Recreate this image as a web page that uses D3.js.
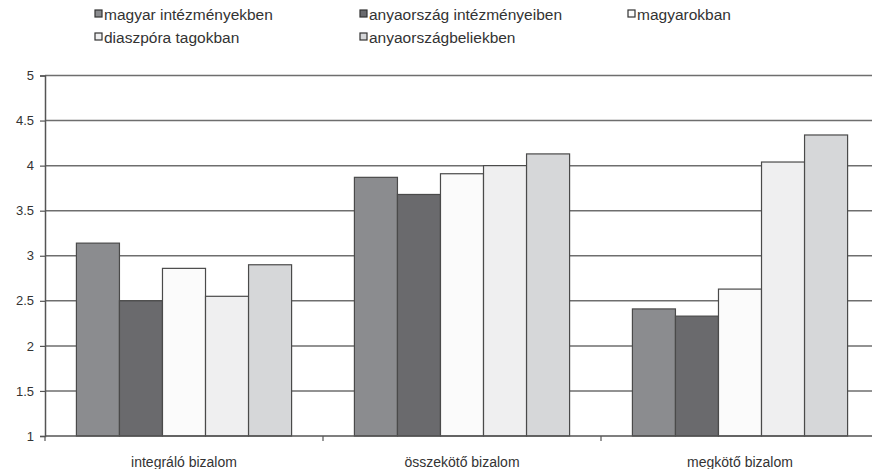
<!DOCTYPE html>
<html>
<head>
<meta charset="utf-8">
<script src="https://cdn.jsdelivr.net/npm/d3@7"></script>
<style>
  body { margin: 0; background: #fff; }
  svg { display: block; font-family: "Liberation Sans", Arial, sans-serif; }
</style>
</head>
<body>
<div id="chart"></div>
<script>
// categories, series and values
const categories = ["integráló bizalom", "összekötő bizalom", "megkötő bizalom"];
const seriesNames = ["magyar intézményekben", "anyaország intézményeiben", "magyarokban",
                     "diaszpóra tagokban", "anyaországbeliekben"];
const seriesColors = ["#8b8c8f", "#6a6a6d", "#fbfbfb", "#efeff0", "#d6d7d9"];
const values = [
  [3.14, 2.50, 2.86, 2.55, 2.90],
  [3.87, 3.68, 3.91, 4.00, 4.13],
  [2.41, 2.33, 2.63, 4.04, 4.34]
];
const yTicks = [1, 1.5, 2, 2.5, 3, 3.5, 4, 4.5, 5];

const width = 872, height = 469;
const plotLeft = 45, plotRight = 879, plotTop = 75.5, plotBottom = 436;

const svg = d3.select("#chart").append("svg")
  .attr("width", width)
  .attr("height", height);

const x = d3.scaleBand().domain(categories).range([plotLeft, plotRight]).paddingInner(0).paddingOuter(0);
const inner = d3.scaleBand().domain(d3.range(seriesNames.length))
  .range([0, x.bandwidth()]).paddingInner(0).paddingOuter(0.73);
const y = d3.scaleLinear().domain([1, 5]).range([plotBottom, plotTop]);

// gridlines
svg.append("g").selectAll("line")
  .data(yTicks.filter(t => t > 1))
  .enter().append("line")
  .attr("x1", plotLeft).attr("x2", plotRight)
  .attr("y1", d => y(d)).attr("y2", d => y(d))
  .style("stroke", "#6e6e6e")
  .style("stroke-width", 1.5);

// y axis
const yAxis = svg.append("g")
  .attr("transform", `translate(${plotLeft},0)`)
  .call(d3.axisLeft(y).tickValues(yTicks).tickSize(5).tickPadding(6).tickFormat(d3.format("")));
yAxis.select(".domain").style("stroke", "#555").style("stroke-width", 1.5);
yAxis.selectAll(".tick line").style("stroke", "#555").style("stroke-width", 1.2);
yAxis.selectAll("text").style("font-size", "13px").style("fill", "#333");

// bars
const groups = svg.append("g").selectAll("g")
  .data(values)
  .enter().append("g")
  .attr("transform", (d, i) => `translate(${x(categories[i])},0)`);

groups.selectAll("rect")
  .data(d => d)
  .enter().append("rect")
  .attr("x", (d, i) => inner(i))
  .attr("width", inner.bandwidth())
  .attr("y", d => y(d))
  .attr("height", d => y(1) - y(d))
  .style("fill", (d, i) => seriesColors[i])
  .style("stroke", "#4a4a4a")
  .style("stroke-width", 1.2);

// x axis
const xAxis = svg.append("g")
  .attr("transform", `translate(0,${plotBottom})`);
xAxis.append("line")
  .attr("x1", plotLeft).attr("x2", plotRight)
  .style("stroke", "#555").style("stroke-width", 1.5);
xAxis.selectAll("line.sep")
  .data(categories)
  .enter().append("line")
  .attr("class", "sep")
  .attr("x1", d => x(d)).attr("x2", d => x(d))
  .attr("y1", 0).attr("y2", 5)
  .style("stroke", "#555").style("stroke-width", 1.2);
xAxis.selectAll("text")
  .data(categories)
  .enter().append("text")
  .attr("x", d => x(d) + x.bandwidth() / 2)
  .attr("y", 31)
  .attr("text-anchor", "middle")
  .style("font-size", "14px")
  .style("fill", "#333")
  .text(d => d);

// legend
const legendPos = [[95, 15], [360, 15], [628, 15], [95, 38], [360, 38]];
const legend = svg.append("g").selectAll("g")
  .data(seriesNames)
  .enter().append("g")
  .attr("transform", (d, i) => `translate(${legendPos[i][0]},${legendPos[i][1]})`);
legend.append("rect")
  .attr("x", 0).attr("y", -5)
  .attr("width", 7).attr("height", 7)
  .style("fill", (d, i) => seriesColors[i])
  .style("stroke", "#333")
  .style("stroke-width", 1.2);
legend.append("text")
  .attr("x", 9).attr("y", 5)
  .style("font-size", "15.5px")
  .style("fill", "#333")
  .text(d => d);
</script>
</body>
</html>
